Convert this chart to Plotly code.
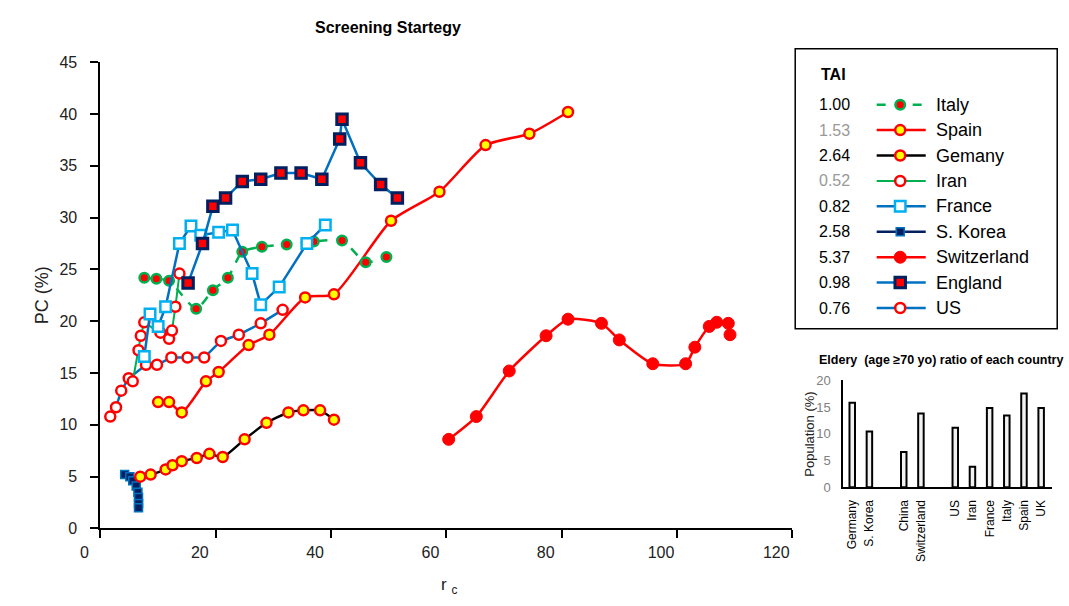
import plotly.graph_objects as go

W, H = 1069, 606
FONT = "Liberation Sans, Arial, sans-serif"


def fx(p):
    """page x pixel -> paper fraction"""
    return p / W


def fy(p):
    """page y pixel -> paper fraction"""
    return (H - p) / H


# ---- main chart series (r_c, PC %) ----
italy_x = [7.6, 9.7, 11.9, 16.6, 19.5, 22.1, 24.6, 28.0, 32.3, 37.0, 41.9, 46.0, 49.6]
italy_y = [24.2, 24.1, 23.9, 21.2, 23.0, 24.2, 26.7, 27.2, 27.4, 27.7, 27.8, 25.7, 26.2]

spain_x = [10.0, 11.9, 14.1, 18.3, 20.5, 25.7, 29.3, 35.5, 40.5, 50.4, 58.8, 66.8, 74.4, 81.1]
spain_y = [12.2, 12.2, 11.2, 14.2, 15.1, 17.7, 18.7, 22.3, 22.6, 29.7, 32.5, 37.0, 38.1, 40.2]

germany_x = [6.9, 8.7, 11.3, 12.5, 14.1, 16.7, 18.9, 21.2, 25.0, 28.8, 32.6, 35.2, 38.1, 40.5]
germany_y = [5.0, 5.2, 5.7, 6.1, 6.5, 6.8, 7.2, 6.9, 8.6, 10.2, 11.2, 11.4, 11.4, 10.5]

iran_x = [5.6, 6.6, 7.0, 7.6, 10.4, 11.9, 12.4, 13.0, 13.7]
iran_y = [14.2, 17.2, 18.6, 19.9, 18.9, 18.3, 19.1, 21.4, 24.6]

france_x = [7.6, 8.6, 10.0, 11.3, 13.7, 15.7, 17.4, 20.5, 22.9, 26.3, 27.8, 31.0, 35.8, 39.0]
france_y = [16.6, 20.7, 19.5, 21.4, 27.5, 29.2, 28.3, 28.6, 28.8, 24.6, 21.6, 23.3, 27.5, 29.3]

korea_x = [4.2, 5.1, 5.6, 6.2, 6.5, 6.6, 6.6, 6.6]
korea_y = [5.2, 5.0, 4.6, 4.1, 3.5, 3.0, 2.4, 2.0]

swiss_x = [60.4, 65.2, 70.9, 77.3, 81.1, 86.9, 90.0, 95.8, 101.5, 103.1, 105.6, 106.9, 108.9, 109.2]
swiss_y = [8.6, 10.8, 15.2, 18.6, 20.2, 19.8, 18.2, 15.9, 15.9, 17.5, 19.5, 19.9, 19.8, 18.7]

england_x = [15.2, 17.7, 19.5, 21.7, 24.6, 27.8, 31.3, 34.8, 38.4, 41.5, 41.9, 45.1, 48.6, 51.5]
england_y = [23.7, 27.5, 31.1, 31.9, 33.5, 33.7, 34.3, 34.3, 33.7, 37.6, 39.5, 35.3, 33.2, 31.9]

us_x = [1.7, 2.7, 3.6, 4.9, 7.9, 9.8, 12.3, 15.1, 18.0, 20.9, 24.0, 27.8, 31.6]
us_y = [10.8, 11.7, 13.3, 14.5, 15.8, 15.8, 16.5, 16.5, 16.5, 18.1, 18.7, 19.8, 21.1]

# ---- legend table ----
legend_names = ["Italy", "Spain", "Gemany", "Iran", "France", "S. Korea", "Switzerland", "England", "US"]
legend_tai = ["1.00", "1.53", "2.64", "0.52", "0.82", "2.58", "5.37", "0.98", "0.76"]
tai_dimmed = ["1.53", "0.52"]

# ---- inset: elderly ratio (blank entries are spacer slots between groups) ----
eld_countries = ["Germany", "S. Korea", " ", "China", "Switzerland", "  ",
                 "US", "Iran", "France", "Italy", "Spain", "UK"]
eld_values = [15.8, 10.4, None, 6.6, 13.8, None, 11.1, 3.8, 14.8, 13.4, 17.5, 14.8]
eld_labels = [c for c in eld_countries if c.strip()]

GREEN = "#00b050"
RED = "#ff0000"
YELLOW = "#ffff00"
BLUE = "#0070c0"
LBLUE = "#00b0f0"
NAVY = "#002060"

styles = {
    "Italy": dict(line=dict(color=GREEN, width=2.5, dash="dash", shape="spline", smoothing=0.6),
                  marker=dict(symbol="circle", size=9.5, color=RED, line=dict(color=GREEN, width=2.5))),
    "Spain": dict(line=dict(color=RED, width=2.5, shape="spline", smoothing=0.6),
                  marker=dict(symbol="circle", size=10, color=YELLOW, line=dict(color=RED, width=2.5))),
    "Gemany": dict(line=dict(color="black", width=2.5, shape="spline", smoothing=0.6),
                   marker=dict(symbol="circle", size=10, color=YELLOW, line=dict(color=RED, width=2.5))),
    "Iran": dict(line=dict(color=GREEN, width=2),
                 marker=dict(symbol="circle", size=10, color="white", line=dict(color=RED, width=2.5))),
    "France": dict(line=dict(color=BLUE, width=2.5),
                   marker=dict(symbol="square", size=10.5, color="white", line=dict(color=LBLUE, width=2.5))),
    "S. Korea": dict(line=dict(color=NAVY, width=2.5),
                     marker=dict(symbol="square", size=8, color=NAVY, line=dict(color=BLUE, width=1.5))),
    "Switzerland": dict(line=dict(color=RED, width=2.5, shape="spline", smoothing=0.6),
                        marker=dict(symbol="circle", size=12, color=RED, line=dict(color=RED, width=1))),
    "England": dict(line=dict(color=BLUE, width=2.5),
                    marker=dict(symbol="square", size=10.5, color=RED, line=dict(color=NAVY, width=3))),
    "US": dict(line=dict(color=BLUE, width=2.5),
               marker=dict(symbol="circle", size=10, color="white", line=dict(color=RED, width=2.5))),
}

series = {
    "Italy": (italy_x, italy_y),
    "Spain": (spain_x, spain_y),
    "Gemany": (germany_x, germany_y),
    "Iran": (iran_x, iran_y),
    "France": (france_x, france_y),
    "S. Korea": (korea_x, korea_y),
    "Switzerland": (swiss_x, swiss_y),
    "England": (england_x, england_y),
    "US": (us_x, us_y),
}

draw_order = ["Switzerland", "Spain", "S. Korea", "Gemany", "US", "Iran", "Italy", "France", "England"]

fig = go.Figure()
for name in draw_order:
    xs, ys = series[name]
    st = styles[name]
    fig.add_trace(go.Scatter(x=xs, y=ys, mode="lines+markers", name=name,
                             line=st["line"], marker=st["marker"],
                             showlegend=False, xaxis="x", yaxis="y"))

# ---- custom legend box (pixel-based overlay axis) ----
LEG_L, LEG_R, LEG_T, LEG_B = 790, 1057, 42, 330
row0, row_step = 99.5, 26.15
for i, name in enumerate(legend_names):
    yy = row0 + i * row_step
    st = styles[name]
    ln = dict(st["line"])
    ln.pop("shape", None)
    ln.pop("smoothing", None)
    fig.add_trace(go.Scatter(x=[873, 923], y=[yy, yy], mode="lines", line=ln,
                             showlegend=False, hoverinfo="skip", xaxis="x3", yaxis="y3"))
    fig.add_trace(go.Scatter(x=[897], y=[yy], mode="markers", marker=st["marker"],
                             showlegend=False, hoverinfo="skip", xaxis="x3", yaxis="y3"))

annotations = []
annotations.append(dict(x=829, y=68, xref="x3", yref="y3", text="<b>TAI</b>", showarrow=False,
                        xanchor="center", yanchor="middle",
                        font=dict(size=16, color="black", family=FONT)))
for i, (name, tai) in enumerate(zip(legend_names, legend_tai)):
    yy = row0 + i * row_step
    annotations.append(dict(x=830, y=yy, xref="x3", yref="y3", text=tai, showarrow=False,
                            xanchor="center", yanchor="middle",
                            font=dict(size=16, family=FONT,
                                      color="#999999" if tai in tai_dimmed else "black")))
    annotations.append(dict(x=931, y=yy, xref="x3", yref="y3", text=name, showarrow=False,
                            xanchor="left", yanchor="middle",
                            font=dict(size=18, color="black", family=FONT)))

# ---- inset bar chart ----
fig.add_trace(go.Bar(x=eld_countries, y=eld_values, width=0.32,
                     marker=dict(color="#f2f2f2", line=dict(color="black", width=2)),
                     showlegend=False, xaxis="x2", yaxis="y2"))


def paper_text(x, y, text, size, angle=0, color="black"):
    return dict(x=fx(x), y=fy(y), xref="paper", yref="paper", text=text, textangle=angle,
                showarrow=False, xanchor="center", yanchor="middle",
                font=dict(size=size, color=color, family=FONT))


annotations.append(paper_text(375, 20, "<b>Screening Startegy</b>", 16))
annotations.append(paper_text(22, 296, "PC (%)", 18, angle=-90, color="#222"))
annotations.append(paper_text(437, 595, "r <sub>c</sub>", 17, color="#222"))
annotations.append(paper_text(939, 362, "<b>Eldery  (age ≥70 yo) ratio of each country</b>", 12.5))
annotations.append(paper_text(805, 438, "Population (%)", 13, angle=-90, color="#222"))

axis_common = dict(showgrid=False, zeroline=False, showline=True, linecolor="black", linewidth=2,
                   ticks="outside", ticklen=8, tickwidth=2, tickcolor="black",
                   tickfont=dict(size=16, color="#222", family=FONT))

fig.update_layout(
    width=W, height=H,
    margin=dict(l=0, r=0, t=0, b=0),
    paper_bgcolor="white", plot_bgcolor="rgba(0,0,0,0)",
    font=dict(family=FONT),
    xaxis=dict(domain=[fx(82), fx(787)], range=[0, 120], dtick=20, anchor="y",
               ticklabelshift=-16, **axis_common),
    yaxis=dict(domain=[fy(535.5), fy(55.8)], range=[0, 45], dtick=5, anchor="x",
               ticklabelstandoff=10, **axis_common),
    xaxis2=dict(domain=[fx(839), fx(1052)], range=[-0.52, 11.65], anchor="y2", type="category",
                categoryorder="array", categoryarray=eld_countries,
                tickmode="array", tickvals=eld_labels, ticktext=eld_labels,
                showgrid=False, zeroline=False, showline=True, linecolor="black", linewidth=2,
                ticks="", tickangle=-90, ticklabelstandoff=6,
                tickfont=dict(size=12, color="black", family=FONT)),
    yaxis2=dict(domain=[fy(493), fy(383)], range=[0, 20], dtick=5, anchor="x2",
                showgrid=False, zeroline=False, showline=True, linecolor="black", linewidth=2,
                ticks="", ticklabelstandoff=8,
                tickfont=dict(size=13, color="#808080", family=FONT)),
    xaxis3=dict(domain=[fx(LEG_L), fx(LEG_R)], range=[LEG_L, LEG_R], visible=False, anchor="y3"),
    yaxis3=dict(domain=[fy(LEG_B), fy(LEG_T)], range=[LEG_B, LEG_T], visible=False, anchor="x3"),
    annotations=annotations,
    shapes=[dict(type="rect", xref="paper", yref="paper", x0=fx(LEG_L), x1=fx(LEG_R),
                 y0=fy(LEG_B), y1=fy(LEG_T), line=dict(color="black", width=1.5))],
    bargap=0.5,
)

fig.write_html("out.html")
